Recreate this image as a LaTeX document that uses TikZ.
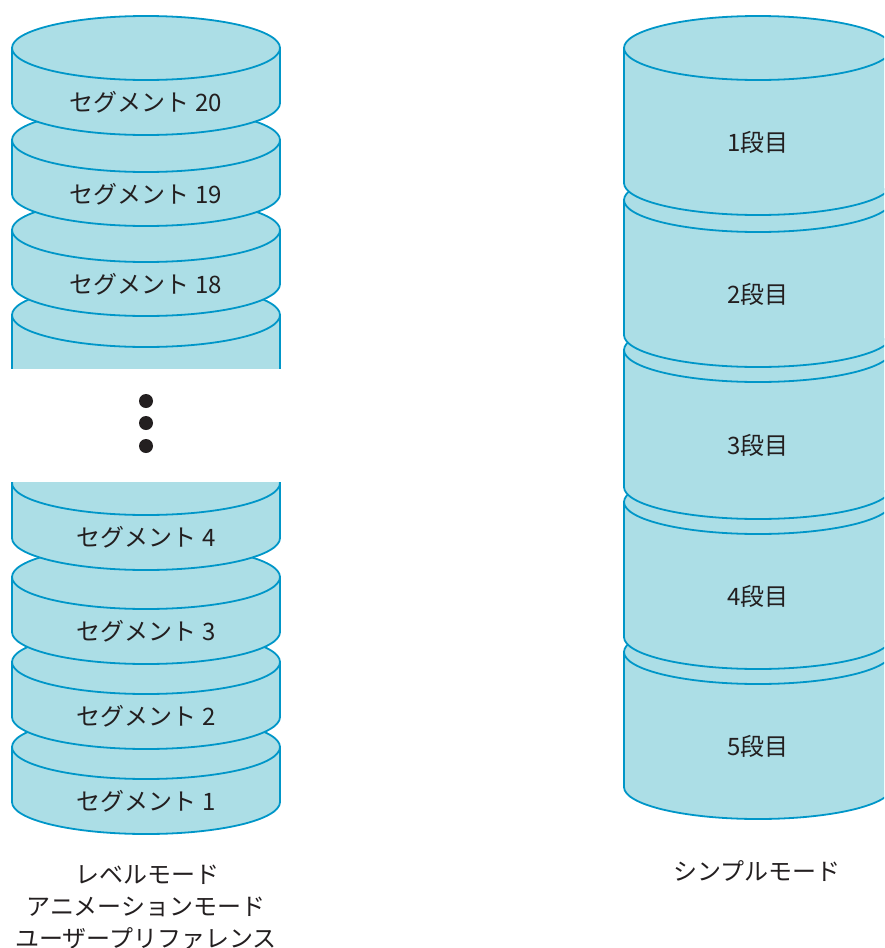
\documentclass[tikz,border=0pt]{standalone}
\usepackage{fontspec}
\newfontfamily\jpfont{Noto Sans CJK JP}
\definecolor{DrumFill}{RGB}{172,222,230}
\definecolor{DrumLine}{RGB}{0,150,200}
\definecolor{TextClr}{RGB}{35,31,32}

% #1 x centre, #2 top, #3 wall height, #4 name, #5 label
\newcommand{\drumSeg}[5]{%
  \filldraw[drum] (#1-134,-#2) -- (#1-134,-#2-#3)
    arc[start angle=180,end angle=360,x radius=134,y radius=32] -- (#1+134,-#2)
    arc[start angle=0,end angle=180,x radius=134,y radius=32] -- cycle;
  \draw[drumline] (#1-134,-#2) arc[start angle=180,end angle=360,x radius=134,y radius=32];
  \node[seglabel] (#4) at (#1,{-#2-#3/2-36}) {#5};
}

\begin{document}
\begin{tikzpicture}[x=1pt,y=1pt,
  drum/.style={draw=DrumLine,fill=DrumFill,line width=1.8pt,line join=round},
  drumline/.style={draw=DrumLine,line width=1.8pt},
  seglabel/.style={anchor=base,text=TextClr,inner sep=0pt,font=\jpfont\fontsize{24}{30}\selectfont},
  modelabel/.style={seglabel}]
\useasboundingbox (0,0) rectangle (884,-948);
\clip (0,0) rectangle (884,-948);

% level mode stack, lower segments first
\drumSeg{146}{747}{55}{seg1}{セグメント 1}
\drumSeg{146}{662}{55}{seg2}{セグメント 2}
\drumSeg{146}{577}{55}{seg3}{セグメント 3}
\drumSeg{146}{483}{55}{seg4}{セグメント 4}
\drumSeg{146}{315}{54}{seg17}{}
\fill[white] (0,-369) rectangle (300,-482);
\foreach \y in {401,423,446}
  \fill[TextClr] (146,-\y) circle[radius=7];
\drumSeg{146}{230}{54}{seg18}{セグメント 18}
\drumSeg{146}{140}{54}{seg19}{セグメント 19}
\drumSeg{146}{48}{55}{seg20}{セグメント 20}

% simple mode stack
\drumSeg{758}{652}{135}{tier5}{5段目}
\drumSeg{758}{502}{135}{tier4}{4段目}
\drumSeg{758}{350}{137}{tier3}{3段目}
\drumSeg{758}{200}{135}{tier2}{2段目}
\drumSeg{758}{48}{135}{tier1}{1段目}

\node[modelabel] (levelmode) at (147,-883) {レベルモード};
\node[modelabel] (animmode) at (146,-915) {アニメーションモード};
\node[modelabel] (userpref) at (146,-947) {ユーザープリファレンス};
\node[modelabel] (simplemode) at (757,-880) {シンプルモード};

\end{tikzpicture}
\end{document}
